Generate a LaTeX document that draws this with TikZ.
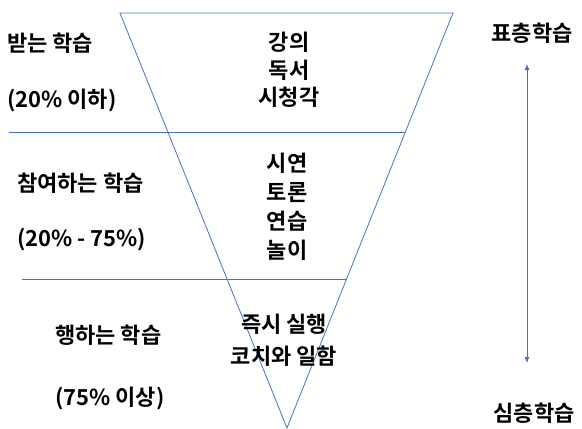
\documentclass[tikz,border=0pt]{standalone}
\usepackage{fontspec}
\newfontfamily\kr{Noto Sans CJK KR Bold}
\usetikzlibrary{arrows.meta}
\definecolor{lineblue}{HTML}{4472C4}
\tikzset{
  ln/.style={draw=lineblue, line width=0.8pt},
  txt/.style={font=\kr\fontsize{22}{28}\selectfont, inner sep=0pt, align=center},
  lt/.style={txt, anchor=west}
}
\begin{document}
\begin{tikzpicture}[x=1pt,y=-1pt]
\useasboundingbox (0,0) rectangle (582,429);
\coordinate (tl) at (120,13);
\coordinate (tr) at (453,13);
\coordinate (ap) at (287,428);
\draw[ln] (tl) -- (tr) -- (ap) -- cycle;
\coordinate (h1a) at (9,132);
\coordinate (h1b) at (405,132);
\coordinate (h2a) at (22,279);
\coordinate (h2b) at (347,279);
\draw[ln] (h1a) -- (h1b);
\draw[ln] (h2a) -- (h2b);
\coordinate (au) at (527,64);
\coordinate (ad) at (527,363);
\draw[ln, {Latex[length=6pt,width=5pt]}-{Latex[length=6pt,width=5pt]}] (au) -- (ad);
\node[lt] (l1) at (7,43) {받는 학습};
\node[lt] (l1p) at (7,100) {(20\% 이하)};
\node[lt] (l2) at (17,183) {참여하는 학습};
\node[lt] (l2p) at (17,240) {(20\% - 75\%)};
\node[lt] (l3) at (55,335) {행하는 학습};
\node[lt] (l3p) at (55,398) {(75\% 이상)};
\node[txt, font=\kr\fontsize{22}{27.5}\selectfont] (c1) at (289,70) {강의\\독서\\시청각};
\node[txt, font=\kr\fontsize{22}{29}\selectfont] (c2) at (287,207) {시연\\토론\\연습\\놀이};
\node[txt, font=\kr\fontsize{22}{32}\selectfont] (c3) at (284,340) {즉시 실행\\코치와 일함};
\node[txt] (top) at (532,33) {표층학습};
\node[txt] (bot) at (534,413) {심층학습};
\end{tikzpicture}
\end{document}
